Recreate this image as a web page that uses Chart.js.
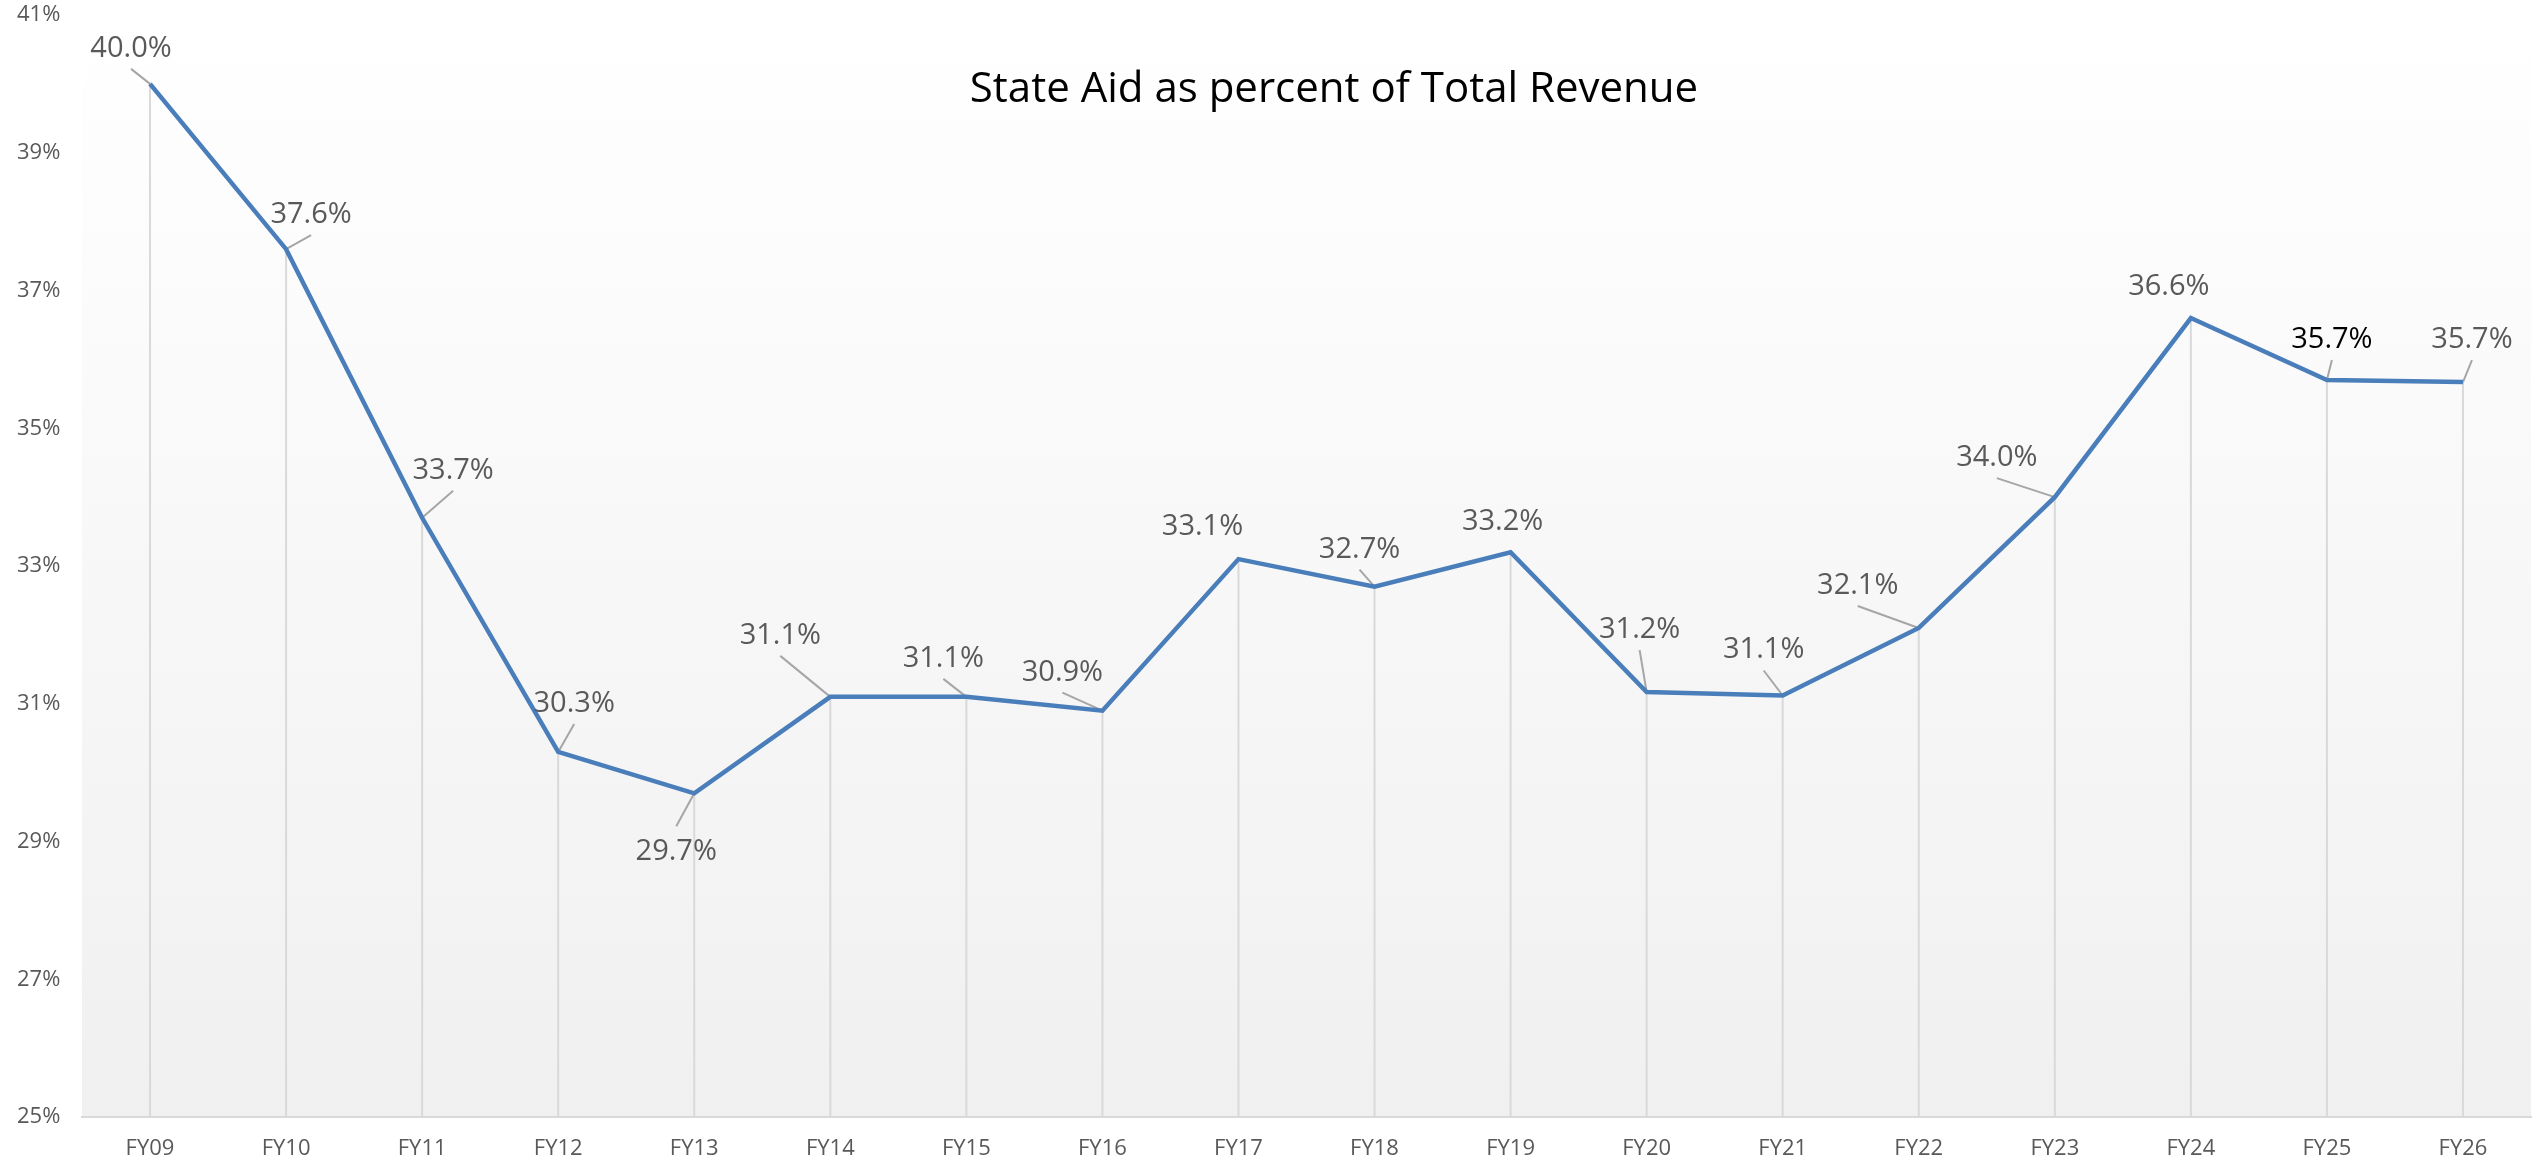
<!DOCTYPE html>
<html>
<head>
<meta charset="utf-8">
<title>State Aid as percent of Total Revenue</title>
<script src="https://cdn.jsdelivr.net/npm/chart.js@4.4.1/dist/chart.umd.min.js"></script>
<style>
  html, body { margin: 0; padding: 0; background: #fff; }
  canvas { display: block; }
</style>
</head>
<body>
<canvas id="stateAidChart" width="2539" height="1162"></canvas>
<script>
// data
const years = ['FY09', 'FY10', 'FY11', 'FY12', 'FY13', 'FY14', 'FY15', 'FY16', 'FY17',
               'FY18', 'FY19', 'FY20', 'FY21', 'FY22', 'FY23', 'FY24', 'FY25', 'FY26'];
const stateAidPct = [40.0, 37.6, 33.7, 30.3, 29.7, 31.1, 31.1, 30.9, 33.1,
                     32.7, 33.2, 31.17, 31.12, 32.1, 34.0, 36.6, 35.7, 35.67];
const yTicks = [25, 27, 29, 31, 33, 35, 37, 39, 41];
const chartTitle = 'State Aid as percent of Total Revenue';

// label placement (pixels from the point), leader lines, label colours
const labelDx = [-19, 25, 31, 16, -18, -50, -23, -40, -36, -15, -8, -7, -19, -61, -58, -22, 5, 9];
const labelDy = [-37, -36, -49, -50, 57, -63, -40, -40, -34, -39, -32, -64, -47, -44, -41, -33, -42, -44];
const showLeader = [1, 1, 1, 1, 1, 1, 1, 1, 0, 1, 0, 1, 1, 1, 1, 0, 1, 1];
const labelColors = years.map((y, i) => i === 16 ? '#000000' : '#595959');

const FONT = '"Open Sans", "DejaVu Sans", sans-serif';

const plotBackground = {
    id: 'plotBackground',
    beforeDraw(chart) {
        const { ctx, chartArea: a } = chart;
        const g = ctx.createLinearGradient(0, a.top, 0, a.bottom);
        g.addColorStop(0, '#ffffff');
        g.addColorStop(1, '#f0f0f0');
        ctx.save();
        ctx.fillStyle = g;
        ctx.fillRect(a.left, a.top, a.right - a.left, a.bottom - a.top);
        ctx.restore();
    }
};

// drop lines + leader lines, under the series line
const dropLines = {
    id: 'dropLines',
    beforeDatasetsDraw(chart) {
        const { ctx, chartArea: a } = chart;
        const pts = chart.getDatasetMeta(0).data;
        ctx.save();
        ctx.lineWidth = 2;
        pts.forEach((p, i) => {
            ctx.strokeStyle = '#d9d9d9';
            ctx.beginPath();
            ctx.moveTo(p.x, p.y);
            ctx.lineTo(p.x, a.bottom);
            ctx.stroke();
            if (showLeader[i]) {
                const cx = p.x + labelDx[i], cy = p.y + labelDy[i];
                const ey = labelDy[i] < 0 ? cy + 22 : cy - 24;
                ctx.strokeStyle = '#a6a6a6';
                ctx.beginPath();
                ctx.moveTo(p.x, p.y);
                ctx.lineTo(cx, ey);
                ctx.stroke();
            }
        });
        ctx.restore();
    }
};

const valueLabels = {
    id: 'valueLabels',
    afterDatasetsDraw(chart) {
        const ctx = chart.ctx;
        const pts = chart.getDatasetMeta(0).data;
        ctx.save();
        ctx.font = '29px ' + FONT;
        ctx.textAlign = 'center';
        ctx.textBaseline = 'alphabetic';
        pts.forEach((p, i) => {
            ctx.fillStyle = labelColors[i];
            ctx.fillText(stateAidPct[i].toFixed(1) + '%', p.x + labelDx[i], p.y + labelDy[i] + 10);
        });
        ctx.restore();
    }
};

const overlayTitle = {
    id: 'overlayTitle',
    afterDraw(chart) {
        const ctx = chart.ctx;
        ctx.save();
        ctx.font = '42px ' + FONT;
        ctx.fillStyle = '#000000';
        ctx.textAlign = 'center';
        ctx.textBaseline = 'alphabetic';
        ctx.fillText(chartTitle, 1334, 102);
        ctx.restore();
    }
};

function drawChart() {
    const ctx = document.getElementById('stateAidChart').getContext('2d');
    new Chart(ctx, {
        type: 'line',
        data: {
            labels: years,
            datasets: [{
                label: 'State Aid %',
                data: stateAidPct,
                borderColor: '#4a7ebb',
                borderWidth: 4.5,
                pointRadius: 0,
                tension: 0,
                fill: false
            }]
        },
        options: {
            responsive: false,
            devicePixelRatio: 1,
            animation: false,
            layout: { padding: { top: 15, right: 8, left: 17, bottom: 0 } },
            plugins: {
                legend: { display: false },
                tooltip: { enabled: false },
                title: { display: false }
            },
            scales: {
                x: {
                    offset: true,
                    grid: { display: false, drawTicks: false },
                    border: { display: true, color: '#d9d9d9', width: 2 },
                    afterFit: s => { s.height = 45; },
                    ticks: {
                        color: '#595959',
                        font: { family: FONT, size: 22 },
                        padding: 19,
                        maxRotation: 0,
                        autoSkip: false
                    }
                },
                y: {
                    min: 25,
                    max: 41,
                    grid: { display: false, drawTicks: false },
                    border: { display: false },
                    afterBuildTicks: s => { s.ticks = yTicks.map(v => ({ value: v })); },
                    afterFit: s => { s.width = 65; },
                    ticks: {
                        color: '#595959',
                        font: { family: FONT, size: 22 },
                        padding: 0,
                        crossAlign: 'far',
                        callback: v => v + '%'
                    }
                }
            }
        },
        plugins: [plotBackground, dropLines, valueLabels, overlayTitle]
    });
}

window.onload = function () {
    document.fonts.load('29px "Open Sans"').then(drawChart, drawChart);
};
</script>
</body>
</html>
